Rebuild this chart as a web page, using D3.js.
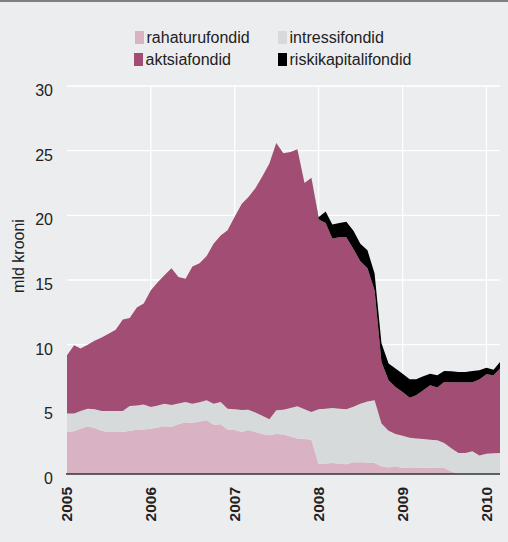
<!DOCTYPE html>
<html>
<head>
<meta charset="utf-8">
<script src="https://cdn.jsdelivr.net/npm/d3@7"></script>
<style>
  body { margin: 0; background: #ecedef; }
  svg { display: block; }
  text { font-family: "Liberation Sans", Arial, Helvetica, sans-serif; fill: #222; }
</style>
</head>
<body>
<svg class="area-chart"></svg>
<script>
// monthly values, Jan 2005 .. Mar 2010 (mld krooni)
const startYear = 2005;
const seriesKeys = ['rahaturufondid', 'intressifondid', 'aktsiafondid', 'riskikapitalifondid'];
const seriesColors = ['#d9b3c4', '#d7dadb', '#a14d74', '#000000'];
const yearTicks = [2005, 2006, 2007, 2008, 2009, 2010];
const yTicks = [0, 5, 10, 15, 20, 25, 30];

const rahaturufondid = [
  3.25, 3.3, 3.5, 3.7, 3.55, 3.35, 3.25, 3.24, 3.25, 3.35, 3.43, 3.45,
  3.5, 3.6, 3.7, 3.65, 3.85, 4.0, 3.95, 4.05, 4.15, 3.8, 3.84, 3.45,
  3.4, 3.24, 3.4, 3.25, 3.1, 3.0, 3.1, 3.06, 2.9, 2.75, 2.7, 2.65,
  0.8, 0.82, 0.85, 0.8, 0.75, 0.9, 0.9, 0.88, 0.85, 0.6, 0.5, 0.59,
  0.46, 0.5, 0.5, 0.48, 0.48, 0.47, 0.46, 0.2, 0, 0, 0, 0,
  0, 0, 0
];
const intressifondid = [
  1.42, 1.37, 1.37, 1.35, 1.45, 1.52, 1.62, 1.63, 1.62, 1.9, 1.87, 1.93,
  1.68, 1.7, 1.74, 1.68, 1.6, 1.57, 1.49, 1.5, 1.55, 1.64, 1.73, 1.6,
  1.6, 1.71, 1.57, 1.5, 1.4, 1.23, 1.82, 1.91, 2.2, 2.48, 2.3, 2.14,
  4.2, 4.23, 4.25, 4.25, 4.25, 4.3, 4.54, 4.72, 4.85, 3.3, 2.85, 2.51,
  2.49, 2.3, 2.24, 2.22, 2.17, 2.13, 1.94, 1.8, 1.62, 1.62, 1.75, 1.44,
  1.57, 1.6, 1.62
];
const aktsiafondid = [
  4.51, 5.28, 4.83, 4.95, 5.3, 5.68, 5.98, 6.28, 7.08, 6.82, 7.57, 7.8,
  9.02, 9.55, 9.93, 10.57, 9.79, 9.53, 10.61, 10.75, 11.15, 12.36, 12.88, 13.8,
  14.9, 15.95, 16.43, 17.35, 18.5, 19.77, 20.68, 19.83, 19.8, 19.87, 17.5, 18.11,
  14.7, 14.35, 13.1, 13.25, 13.3, 12.2, 11.01, 10.3, 8.5, 4.76, 3.89, 3.63,
  3.39, 3.1, 3.34, 3.77, 4.21, 4.08, 4.71, 5.09, 5.47, 5.47, 5.34, 5.86,
  6.14, 6.03, 6.53
];
const riskikapitalifondid = [
  0, 0, 0, 0, 0, 0, 0, 0, 0, 0, 0, 0,
  0, 0, 0, 0, 0, 0, 0, 0, 0, 0, 0, 0,
  0, 0, 0, 0, 0, 0, 0, 0, 0, 0, 0, 0,
  0.15, 0.9, 1.1, 1.1, 1.2, 1.4, 1.35, 1.4, 1.3, 1.44, 1.3, 1.42,
  1.42, 1.42, 1.24, 1.08, 0.9, 0.95, 0.86, 0.85, 0.8, 0.8, 0.88, 0.72,
  0.51, 0.44, 0.51
];

const width = 508;
const height = 542;
const margin = { top: 86, right: 8, bottom: 68, left: 67 };

const data = rahaturufondid.map((v, i) => ({
  date: new Date(startYear, i, 1),
  rahaturufondid: v,
  intressifondid: intressifondid[i],
  aktsiafondid: aktsiafondid[i],
  riskikapitalifondid: riskikapitalifondid[i]
}));

const svg = d3.select('svg.area-chart')
  .attr('width', width)
  .attr('height', height);

svg.append('rect')
  .attr('width', width).attr('height', height)
  .attr('fill', '#ecedef');
svg.append('rect')
  .attr('width', width).attr('height', 2)
  .attr('fill', '#808080');

const x = d3.scaleTime()
  .domain([data[0].date, data[data.length - 1].date])
  .range([margin.left, width - margin.right]);
const y = d3.scaleLinear()
  .domain([0, 30])
  .range([height - margin.bottom, margin.top]);

// grid
svg.append('g')
  .selectAll('line')
  .data(yTicks.filter(d => d > 0))
  .enter().append('line')
  .attr('x1', margin.left).attr('x2', width - margin.right)
  .attr('y1', d => y(d)).attr('y2', d => y(d))
  .attr('stroke', '#fff').attr('stroke-width', 1.3);

svg.append('g')
  .selectAll('line')
  .data(yearTicks.slice(1))
  .enter().append('line')
  .attr('x1', d => x(new Date(d, 0, 1))).attr('x2', d => x(new Date(d, 0, 1)))
  .attr('y1', y(30)).attr('y2', y(0))
  .attr('stroke', '#fff').attr('stroke-width', 1.3);

// stacked areas
const stack = d3.stack().keys(seriesKeys);
const layers = stack(data);

const area = d3.area()
  .x(d => x(d.data.date))
  .y0(d => y(d[0]))
  .y1(d => y(d[1]));

svg.append('g')
  .selectAll('path')
  .data(layers)
  .enter().append('path')
  .attr('d', area)
  .attr('fill', (d, i) => seriesColors[i]);

// bottom axis line
svg.append('line')
  .attr('x1', margin.left - 1).attr('x2', width - margin.right)
  .attr('y1', y(0)).attr('y2', y(0))
  .attr('stroke', '#333').attr('stroke-width', 1.5);

// y tick labels
svg.append('g')
  .selectAll('text')
  .data(yTicks)
  .enter().append('text')
  .attr('x', 53)
  .attr('y', d => y(d) + 10)
  .attr('text-anchor', 'end')
  .style('font-size', '16px')
  .text(d => d);

// x tick labels
svg.append('g')
  .selectAll('text')
  .data(yearTicks)
  .enter().append('text')
  .attr('transform', d => `translate(${x(new Date(d, 0, 1))},487) rotate(-90)`)
  .attr('dy', '0.35em')
  .attr('text-anchor', 'end')
  .style('font-size', '15.5px')
  .style('font-weight', 'bold')
  .text(d => d);

// y axis title
svg.append('text')
  .attr('transform', 'translate(24,256) rotate(-90)')
  .attr('text-anchor', 'middle')
  .style('font-size', '16px')
  .text('mld krooni');

// legend
const legendPos = [
  { x: 135, y: 31 },
  { x: 278, y: 31 },
  { x: 134, y: 53 },
  { x: 278, y: 53 }
];
const legend = svg.append('g')
  .selectAll('g')
  .data(seriesKeys)
  .enter().append('g')
  .attr('transform', (d, i) => `translate(${legendPos[i].x},${legendPos[i].y})`);

legend.append('rect')
  .attr('width', 9).attr('height', 13)
  .attr('fill', (d, i) => seriesColors[i]);

legend.append('text')
  .attr('x', 11.5)
  .attr('y', 12)
  .style('font-size', '16px')
  .text(d => d);
</script>
</body>
</html>
